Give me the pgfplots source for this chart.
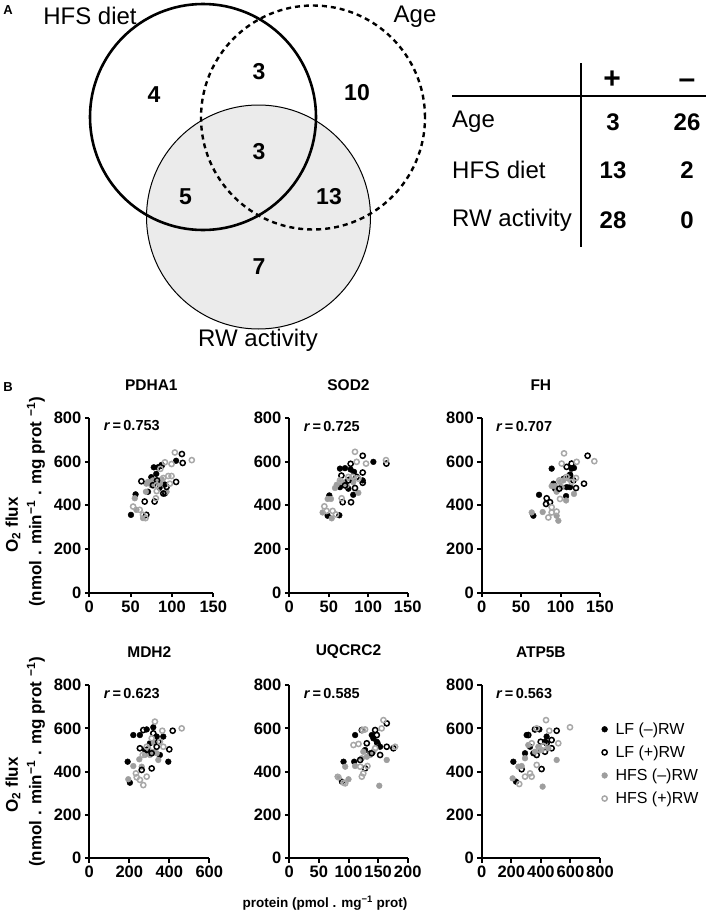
\documentclass[border=0pt]{standalone}
\usepackage{pgfplots}
\pgfplotsset{compat=1.18}
\usepackage{fontspec}
\setmainfont{Liberation Sans}
\definecolor{hfsgray}{HTML}{9E9E9E}
\definecolor{hfsopen}{HTML}{A8A8A8}
\definecolor{vennfill}{HTML}{EBEBEB}
\newcommand\fs[1]{\fontsize{#1bp}{#1bp}\selectfont}
\pgfplotsset{
  panel/.style={
    scale only axis,
    axis x line*=bottom, axis y line*=left,
    axis line style={line width=2bp},
    major tick style={line width=2bp, black},
    tick align=outside, major tick length=4.5bp,
    xmin=0, ymin=0, ymax=800,
    ytick={0,200,400,600,800},
    tick label style={font=\fs{16.5}\bfseries},
    /pgf/number format/assume math mode=true,
    clip=false,
    title style={font=\fs{15.5}\bfseries, at={(0.5,1)}, anchor=center, yshift=27bp},
  },
  lfm/.style={only marks, mark=*, mark size=2.9bp, draw=black, fill=black, mark options={draw=black, fill=black}},
  lfo/.style={only marks, mark=o, mark size=2.6bp, draw=black, mark options={draw=black, line width=1.5bp}},
  hfm/.style={only marks, mark=*, mark size=2.9bp, draw=hfsgray, fill=hfsgray, mark options={draw=hfsgray, fill=hfsgray}},
  hfo/.style={only marks, mark=o, mark size=2.6bp, draw=hfsopen, mark options={draw=hfsopen, line width=1.5bp}},
}
\newcommand\rlab[1]{\node[anchor=west, xshift=11bp, yshift=-8bp, font=\fs{14.5}\bfseries] at (rel axis cs:0,1) {\textit{r}\,=\,#1};}
\begin{document}
\begin{tikzpicture}
\useasboundingbox (0,0) rectangle (709bp,-914bp);
% ---------- Panel A : Venn diagram and table ----------
\begin{axis}[hide axis, scale only axis, width=709bp, height=914bp,
  xmin=0, xmax=709, ymin=-914, ymax=0, at={(0,0)}, anchor=north west, clip=false]
\fill[vennfill] (axis cs:258.5,-217) circle[radius=112];
\draw[line width=1bp] (axis cs:258.5,-217) circle[radius=112];
\draw[line width=2.6bp] (axis cs:203,-117) circle[radius=113];
\draw[line width=2.4bp, dash pattern=on 5bp off 4bp] (axis cs:313,-117.5) circle[radius=112];
\node[font=\fs{24}] at (axis cs:90,-16) {HFS diet};
\node[font=\fs{24}] at (axis cs:415,-17) {Age};
\node[font=\fs{24}] at (axis cs:258,-340) {RW activity};
\node[font=\fs{23}\bfseries] at (axis cs:154,-95) {4};
\node[font=\fs{23}\bfseries] at (axis cs:259,-72) {3};
\node[font=\fs{23}\bfseries] at (axis cs:357,-93) {10};
\node[font=\fs{23}\bfseries] at (axis cs:259,-152) {3};
\node[font=\fs{23}\bfseries] at (axis cs:185.5,-197) {5};
\node[font=\fs{23}\bfseries] at (axis cs:329,-197) {13};
\node[font=\fs{23}\bfseries] at (axis cs:259,-267) {7};
% table
\draw[line width=2bp] (axis cs:452,-96) -- (axis cs:706,-96);
\draw[line width=2bp] (axis cs:581,-63) -- (axis cs:581,-247);
\node[font=\fs{30}\bfseries] at (axis cs:612,-80) {+};
\node[font=\fs{30}\bfseries] at (axis cs:687,-84) {–};
\node[font=\fs{24}, anchor=west, inner sep=0pt] at (axis cs:452,-122) {Age};
\node[font=\fs{24}, anchor=west, inner sep=0pt] at (axis cs:452,-170) {HFS diet};
\node[font=\fs{24}, anchor=west, inner sep=0pt] at (axis cs:452,-220) {RW activity};
\node[font=\fs{24}\bfseries] at (axis cs:613,-122) {3};
\node[font=\fs{24}\bfseries] at (axis cs:687,-122) {26};
\node[font=\fs{24}\bfseries] at (axis cs:613,-170) {13};
\node[font=\fs{24}\bfseries] at (axis cs:687,-170) {2};
\node[font=\fs{24}\bfseries] at (axis cs:613,-220) {28};
\node[font=\fs{24}\bfseries] at (axis cs:687,-220) {0};
% panel letters and shared labels
\node[font=\fs{13}\bfseries] at (axis cs:8,-10) {A};
\node[font=\fs{13}\bfseries] at (axis cs:8,-387) {B};
\node[rotate=90, font=\fs{17}\bfseries] at (axis cs:13,-525) {O\textsubscript{2} flux};
\node[rotate=90, font=\fs{17}\bfseries] at (axis cs:36,-502) {(nmol . min\textsuperscript{−1} . mg prot \textsuperscript{−1})};
\node[rotate=90, font=\fs{17}\bfseries] at (axis cs:13,-785) {O\textsubscript{2} flux};
\node[rotate=90, font=\fs{17}\bfseries] at (axis cs:36,-762) {(nmol . min\textsuperscript{−1} . mg prot \textsuperscript{−1})};
\node[font=\fs{13.5}\bfseries] at (axis cs:325,-903) {protein (pmol . mg\textsuperscript{−1} prot)};
\end{axis}
% ---------- PDHA1 ----------
\begin{axis}[panel, at={(89.3bp,-592.5bp)}, anchor=south west, width=124bp, height=174.5bp,
  xmax=150, xtick={0,50,100,150}, title={PDHA1}]
\addplot[lfm] coordinates {(50.4,356) (56,450) (78,574) (83,574) (87.5,585) (105,604) (85,480) (91.5,495) (75,529) (81,544) (71,462) (91.5,454)};
\addplot[hfm] coordinates {(55,432) (68.5,462) (69,499) (75,492) (81.5,507) (87.5,519) (65,341) (93.5,462) (71,507) (77,514) (85.5,499) (57,379)};
\addplot[lfo] coordinates {(63,510) (67,417) (79,417) (69,356) (89.5,454) (93.5,484) (105,507) (112,635) (113,594) (87.5,582) (77,492) (82,514)};
\addplot[hfo] coordinates {(53,394) (61,379) (65,356) (68,341) (80.5,432) (81.5,465) (89.5,525) (95.5,534) (99.5,534) (97.5,499) (103.5,642) (99.5,589) (124,607) (91.5,597) (86,567) (81.5,492)};
\rlab{0.753}
\end{axis}
% ---------- SOD2 ----------
\begin{axis}[panel, at={(289.3bp,-592.5bp)}, anchor=south west, width=118.4bp, height=174.5bp,
  xmax=150, xtick={0,50,100,150}, title={SOD2}]
\addplot[lfm] coordinates {(48.6,352) (63.4,354) (50.7,445) (64.2,568) (70.6,570) (77.7,564) (82,553) (106.5,599) (81,448) (93,514) (64.2,483) (74.8,476)};
\addplot[hfm] coordinates {(42.2,367) (48.6,429) (52.8,429) (53.7,340) (60,494) (64.2,506) (70.6,506) (76.9,522) (81,506) (87.5,457) (57.9,479) (72.7,491)};
\addplot[lfo] coordinates {(67.6,414) (78.2,414) (77.7,590) (93,627) (93,550) (93,503) (83.2,479) (123,591) (70.6,491) (74.8,514) (85.3,530) (66,536)};
\addplot[hfo] coordinates {(44.4,395) (47.3,374) (54.9,374) (59.1,358) (66.3,432) (64.2,514) (74.8,530) (83.2,645) (85.3,599) (97.2,591) (122.5,607) (80.3,530) (87.5,522)};
\rlab{0.725}
\end{axis}
% ---------- FH ----------
\begin{axis}[panel, at={(481.7bp,-592.5bp)}, anchor=south west, width=118.3bp, height=174.5bp,
  xmax=150, xtick={0,50,100,150}, title={FH}]
\addplot[lfm] coordinates {(65.5,352) (72.7,448) (88.7,568) (93,476) (107,442) (107.7,483) (112,483) (114,568) (117,571) (112,541) (104,522) (91,499)};
\addplot[hfm] coordinates {(63.4,367) (77.3,369) (88.7,488) (93,488) (97.2,329) (95,352) (107,422) (117,452) (99.3,507) (103.5,514) (110,522) (95,462) (101.4,483)};
\addplot[lfo] coordinates {(82.4,432) (81.6,406) (86.6,414) (107.7,576) (114,591) (119.6,479) (129.7,499) (134.3,627) (112,537) (98.4,476) (116.2,514)};
\addplot[hfo] coordinates {(84.5,344) (88.7,367) (95,371) (88.7,391) (99.3,429) (98.4,514) (101.4,591) (104.4,638) (120.4,599) (119.6,525) (142.8,602) (107.7,530) (114,507)};
\rlab{0.707}
\end{axis}
% ---------- MDH2 ----------
\begin{axis}[panel, at={(89.3bp,-858.3bp)}, anchor=south west, width=120bp, height=173.3bp,
  xmax=600, xtick={0,200,400,600}, title={MDH2}]
\addplot[lfm] coordinates {(191.7,446) (203,349) (220,569) (253,569) (287,595) (320,605) (337,562) (370,562) (395,446) (353,477) (303,531) (278,500)};
\addplot[hfm] coordinates {(195,365) (220,426) (262,423) (250,457) (278,477) (303,477) (320,492) (337,485) (295,508) (345,454) (323,534)};
\addplot[lfo] coordinates {(262,408) (312,415) (270,592) (320,577) (345,538) (400,503) (417,589) (287,500) (312,485) (337,515) (253,508)};
\addplot[hfo] coordinates {(233,392) (237,374) (253,362) (270,338) (287,377) (267,477) (287,515) (328,631) (365,589) (462,600) (370,515) (353,538) (312,554)};
\rlab{0.623}
\end{axis}
% ---------- UQCRC2 ----------
\begin{axis}[panel, at={(289.3bp,-858.3bp)}, anchor=south west, width=118.4bp, height=173.3bp,
  xmax=200, xtick={0,50,100,150,200}, title={UQCRC2}]
\addplot[lfm] coordinates {(91.6,446) (109.6,446) (111.2,569) (139.3,569) (142,554) (88.8,354) (147.8,538) (153.4,515) (128,500) (137,485)};
\addplot[hfm] coordinates {(81.5,377) (94.4,423) (111.2,426) (100,365) (122.5,462) (136.5,477) (142,492) (152,335) (164.6,454) (125,492) (131,469)};
\addplot[lfo] coordinates {(119.7,454) (128,415) (122.5,592) (145,592) (147.8,569) (164.6,623) (148.9,531) (164.6,515) (175.8,508) (153.4,477) (139.3,485) (130.9,531)};
\addplot[hfo] coordinates {(83,374) (91.6,349) (94.4,346) (108.4,523) (116.9,528) (119.7,423) (122.5,377) (125,392) (132,426) (124,592) (128,595) (159,638) (156,600) (178.7,515) (145,508)};
\rlab{0.585}
\end{axis}
% ---------- ATP5B ----------
\begin{axis}[panel, at={(481.7bp,-858.3bp)}, anchor=south west, width=118.3bp, height=173.3bp,
  xmax=800, xtick={0,200,400,600,800}, title={ATP5B},
  legend cell align=left,
  legend style={draw=none, fill=none, at={(1.013,0.795)}, anchor=north west, inner sep=0pt,
    font=\fs{16}, row sep=6bp, column sep=6bp, nodes={inner sep=2bp}}]
\addplot[lfm] coordinates {(214,446) (232,354) (304,569) (390,595) (439,562) (293,485) (349,485) (394,500) (428,538) (327,515)};
\addlegendentry{LF (–)RW}
\addplot[lfo] coordinates {(270,411) (405,412) (315,569) (360,595) (399,538) (428,492) (473,546) (507,589) (473,508) (439,531) (372,477)};
\addlegendentry{LF (+)RW}
\addplot[hfm] coordinates {(209,369) (248,423) (270,426) (293,462) (315,523) (360,492) (405,500) (412,331) (507,454) (450,508) (383,515)};
\addlegendentry{HFS (–)RW}
\addplot[hfo] coordinates {(254,343) (293,377) (327,392) (338,377) (372,431) (338,531) (372,600) (435,638) (457,589) (518,531) (597,605) (417,519) (394,500)};
\addlegendentry{HFS (+)RW}
\rlab{0.563}
\end{axis}
\end{tikzpicture}
\end{document}
